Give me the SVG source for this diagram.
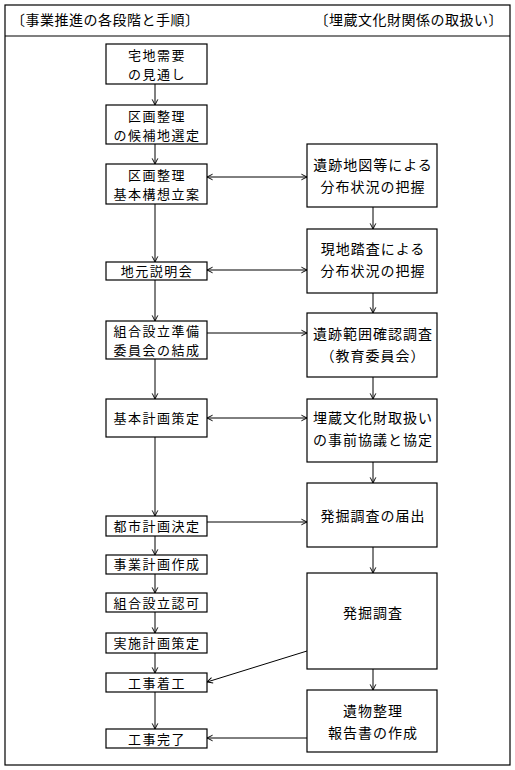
<svg xmlns="http://www.w3.org/2000/svg" width="515" height="770" viewBox="0 0 515 770">
<style>
.frame{fill:#fff;stroke:#000;stroke-width:1.2}
.box{fill:#fff;stroke:#000;stroke-width:1.2}
.t{font-family:"Noto Sans CJK JP","Noto Sans CJK SC",sans-serif;font-size:13px;letter-spacing:1.5px;fill:#000;text-anchor:middle}
.r{font-size:14px;letter-spacing:1px}
.h{font-family:"Noto Sans CJK JP","Noto Sans CJK SC",sans-serif;font-size:14px;letter-spacing:0.5px;fill:#000}
.c{fill:none;stroke:#000;stroke-width:1}
</style>
<defs>
<marker id="ah" viewBox="0 0 10 10" refX="10" refY="5" markerUnits="userSpaceOnUse" markerWidth="8" markerHeight="8" orient="auto-start-reverse">
<path d="M3,1.5 L10,5 L3,8.5" fill="none" stroke="#000" stroke-width="1.2"/>
</marker>
</defs>
<rect width="515" height="770" fill="#fff"/>
<g id="frame">
<rect class="frame" x="5" y="5" width="505" height="760"/>
<line class="frame" x1="5" y1="36" x2="510" y2="36"/>
<text class="h" x="11" y="25">〔事業推進の各段階と手順〕</text>
<text class="h" x="503" y="25" text-anchor="end">〔埋蔵文化財関係の取扱い〕</text>
</g>
<g id="connectors">
<line class="c" x1="155" y1="84" x2="155" y2="105" marker-end="url(#ah)"/>
<line class="c" x1="155" y1="144" x2="155" y2="164" marker-end="url(#ah)"/>
<line class="c" x1="155" y1="204" x2="155" y2="262" marker-end="url(#ah)"/>
<line class="c" x1="155" y1="280" x2="155" y2="321" marker-end="url(#ah)"/>
<line class="c" x1="155" y1="359" x2="155" y2="399" marker-end="url(#ah)"/>
<line class="c" x1="155" y1="437" x2="155" y2="516" marker-end="url(#ah)"/>
<line class="c" x1="155" y1="536" x2="155" y2="555" marker-end="url(#ah)"/>
<line class="c" x1="155" y1="574" x2="155" y2="593" marker-end="url(#ah)"/>
<line class="c" x1="155" y1="612" x2="155" y2="633" marker-end="url(#ah)"/>
<line class="c" x1="155" y1="653" x2="155" y2="673" marker-end="url(#ah)"/>
<line class="c" x1="155" y1="692" x2="155" y2="729" marker-end="url(#ah)"/>
<line class="c" x1="373" y1="207" x2="373" y2="229" marker-end="url(#ah)"/>
<line class="c" x1="373" y1="293" x2="373" y2="313" marker-end="url(#ah)"/>
<line class="c" x1="373" y1="377" x2="373" y2="399" marker-end="url(#ah)"/>
<line class="c" x1="373" y1="462" x2="373" y2="483" marker-end="url(#ah)"/>
<line class="c" x1="373" y1="547" x2="373" y2="573" marker-end="url(#ah)"/>
<line class="c" x1="373" y1="669" x2="373" y2="690" marker-end="url(#ah)"/>
<line class="c" x1="207" y1="177" x2="307" y2="177" marker-start="url(#ah)" marker-end="url(#ah)"/>
<line class="c" x1="207" y1="270" x2="307" y2="270" marker-start="url(#ah)" marker-end="url(#ah)"/>
<line class="c" x1="207" y1="333" x2="307" y2="333" marker-end="url(#ah)"/>
<line class="c" x1="207" y1="418" x2="307" y2="418" marker-start="url(#ah)" marker-end="url(#ah)"/>
<line class="c" x1="207" y1="522" x2="307" y2="522" marker-end="url(#ah)"/>
<line class="c" x1="307" y1="651" x2="207" y2="682" marker-end="url(#ah)"/>
<line class="c" x1="307" y1="738" x2="207" y2="738" marker-end="url(#ah)"/>
</g>
<g id="n1"><rect class="box" x="106" y="44" width="101" height="40"/><text class="t" x="157" y="60">宅地需要</text><text class="t" x="157" y="79">の見通し</text></g>
<g id="n2"><rect class="box" x="106" y="105" width="101" height="39"/><text class="t" x="157" y="121">区画整理</text><text class="t" x="157" y="140">の候補地選定</text></g>
<g id="n3"><rect class="box" x="106" y="164" width="101" height="40"/><text class="t" x="157" y="180">区画整理</text><text class="t" x="157" y="199">基本構想立案</text></g>
<g id="n4"><rect class="box" x="106" y="262" width="101" height="18"/><text class="t" x="157" y="276">地元説明会</text></g>
<g id="n5"><rect class="box" x="106" y="321" width="101" height="38"/><text class="t" x="157" y="336">組合設立準備</text><text class="t" x="157" y="355">委員会の結成</text></g>
<g id="n6"><rect class="box" x="106" y="399" width="101" height="38"/><text class="t" x="157" y="423">基本計画策定</text></g>
<g id="n7"><rect class="box" x="106" y="516" width="101" height="20"/><text class="t" x="157" y="531">都市計画決定</text></g>
<g id="n8"><rect class="box" x="106" y="555" width="101" height="19"/><text class="t" x="157" y="569">事業計画作成</text></g>
<g id="n9"><rect class="box" x="106" y="593" width="101" height="19"/><text class="t" x="157" y="608">組合設立認可</text></g>
<g id="n10"><rect class="box" x="106" y="633" width="101" height="20"/><text class="t" x="157" y="648">実施計画策定</text></g>
<g id="n11"><rect class="box" x="106" y="673" width="101" height="19"/><text class="t" x="157" y="688">工事着工</text></g>
<g id="n12"><rect class="box" x="106" y="729" width="101" height="19"/><text class="t" x="157" y="744">工事完了</text></g>
<g id="r1"><rect class="box" x="307" y="144" width="130" height="63"/><text class="t r" x="373" y="170">遺跡地図等による</text><text class="t r" x="373" y="192">分布状況の把握</text></g>
<g id="r2"><rect class="box" x="307" y="229" width="130" height="64"/><text class="t r" x="373" y="254">現地踏査による</text><text class="t r" x="373" y="276">分布状況の把握</text></g>
<g id="r3"><rect class="box" x="307" y="313" width="130" height="64"/><text class="t r" x="373" y="339">遺跡範囲確認調査</text><text class="t r" x="373" y="361">（教育委員会）</text></g>
<g id="r4"><rect class="box" x="307" y="399" width="130" height="63"/><text class="t r" x="373" y="423">埋蔵文化財取扱い</text><text class="t r" x="373" y="445">の事前協議と協定</text></g>
<g id="r5"><rect class="box" x="307" y="483" width="130" height="64"/><text class="t r" x="373" y="521">発掘調査の届出</text></g>
<g id="r6"><rect class="box" x="307" y="573" width="130" height="96"/><text class="t r" x="373" y="618">発掘調査</text></g>
<g id="r7"><rect class="box" x="307" y="690" width="130" height="62"/><text class="t r" x="373" y="716">遺物整理</text><text class="t r" x="373" y="738">報告書の作成</text></g>
</svg>
